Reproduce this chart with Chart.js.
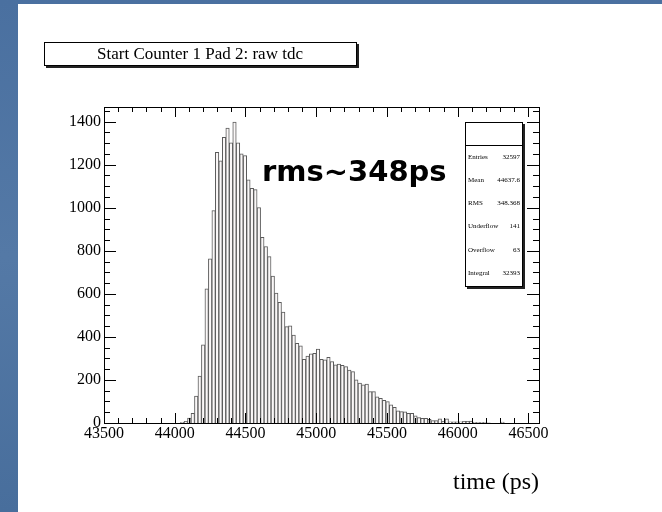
<!DOCTYPE html>
<html>
<head>
<meta charset="utf-8">
<script src="https://cdn.jsdelivr.net/npm/chart.js@4.4.0/dist/chart.umd.min.js"></script>
<style>
  html, body { margin: 0; padding: 0; background: #4f76a3; }
  #histo { display: block; }
</style>
</head>
<body>
<canvas id="histo" width="662" height="512"></canvas>
<script>
// histogram binning (ps)
const X_MIN = 43500;
const X_MAX = 46575;
const BIN_W = 24.6;
const Y_MAX = 1468;

// counts per bin, 125 bins from 43500
const counts = [
  0, 0, 0, 0, 0, 0, 0, 0, 0, 0,
  0, 0, 0, 0, 0, 0, 0, 0, 0, 0,
  0, 0, 3, 8, 23, 45, 125, 218, 363, 623,
  763, 987, 1257, 1218, 1327, 1370, 1302, 1398, 1302, 1251,
  1242, 1130, 1090, 1084, 1001, 862, 820, 773, 683, 603,
  561, 515, 448, 451, 409, 370, 358, 296, 311, 321,
  324, 343, 296, 293, 305, 285, 270, 274, 268, 262,
  246, 239, 200, 185, 177, 181, 146, 146, 122, 115,
  105, 99, 84, 73, 57, 53, 52, 45, 45, 33,
  25, 22, 22, 17, 11, 11, 19, 8, 19, 6,
  5, 5, 6, 8, 8, 9, 3, 2, 3, 2,
  1, 0, 0, 0, 4, 0, 0, 0, 0, 0,
  0, 0, 0, 0, 0
];
const binCenters = counts.map((c, i) => X_MIN + (i + 0.5) * BIN_W);

const xTicks = [43500, 44000, 44500, 45000, 45500, 46000, 46500];
const yTicks = [0, 200, 400, 600, 800, 1000, 1200, 1400];

const titleText = "Start Counter 1 Pad 2: raw tdc";
const xTitle = "time (ps)";
const note = "rms~348ps";
const statNames = ["Entries", "Mean", "RMS", "Underflow", "Overflow", "Integral"];
const statValues = ["32597", "44637.6", "348.368", "141", "63", "32393"];

const serif = "'Liberation Serif', 'Times New Roman', serif";

//slide background
const background = {
  id: "background",
  beforeDraw(chart) {
    const ctx = chart.ctx;
    ctx.save();
    const g = ctx.createLinearGradient(0, 0, 0, chart.height);
    g.addColorStop(0, "#4a70a0");
    g.addColorStop(0.5, "#5479a6");
    g.addColorStop(1, "#486e9c");
    ctx.fillStyle = g;
    ctx.fillRect(0, 0, chart.width, chart.height);
    ctx.fillStyle = "#ffffff";
    ctx.fillRect(18, 4, chart.width - 18, chart.height - 4);
    ctx.restore();
  },
};

//frame + root style ticks
const frameTicks = {
  id: "frameTicks",
  afterDatasetsDraw(chart) {
    const { ctx, chartArea: a, scales } = chart;
    const x = scales.x, y = scales.y;
    ctx.save();
    ctx.strokeStyle = "#000";
    ctx.lineWidth = 1;
    ctx.beginPath();
    for (let v = X_MIN; v <= X_MAX; v += 100) {
      const px = Math.round(x.getPixelForValue(v)) + 0.5;
      const len = v % 500 === 0 ? 10 : 5;
      ctx.moveTo(px, a.bottom);
      ctx.lineTo(px, a.bottom - len);
      ctx.moveTo(px, a.top);
      ctx.lineTo(px, a.top + len);
    }
    for (let v = 0; v <= Y_MAX; v += 50) {
      const py = Math.round(y.getPixelForValue(v)) + 0.5;
      const len = v % 200 === 0 ? 12 : 6;
      ctx.moveTo(a.left, py);
      ctx.lineTo(a.left + len, py);
      ctx.moveTo(a.right, py);
      ctx.lineTo(a.right - len, py);
    }
    ctx.stroke();
    ctx.strokeRect(a.left + 0.5, a.top + 0.5, a.right - a.left, a.bottom - a.top);
    ctx.restore();
  },
  afterDraw(chart) {
    const ctx = chart.ctx;
    ctx.save();
    // title box
    ctx.fillStyle = "#222";
    ctx.fillRect(46, 44, 313, 24);
    ctx.fillStyle = "#fff";
    ctx.fillRect(44, 42, 313, 24);
    ctx.strokeStyle = "#000";
    ctx.lineWidth = 1;
    ctx.strokeRect(44.5, 42.5, 312, 23);
    ctx.fillStyle = "#000";
    ctx.font = "17px " + serif;
    ctx.textAlign = "center";
    ctx.textBaseline = "middle";
    ctx.fillText(titleText, 200, 55);

    // stats box
    ctx.fillStyle = "#222";
    ctx.fillRect(467, 124, 58, 165);
    ctx.fillStyle = "#fff";
    ctx.fillRect(465, 122, 58, 165);
    ctx.strokeRect(465.5, 122.5, 57, 164);
    ctx.beginPath();
    ctx.moveTo(465, 145.5);
    ctx.lineTo(523, 145.5);
    ctx.stroke();
    ctx.fillStyle = "#000";
    ctx.font = "7px " + serif;
    for (let i = 0; i < statNames.length; i++) {
      const ty = 157 + i * 23.2;
      ctx.textAlign = "left";
      ctx.fillText(statNames[i], 468, ty);
      ctx.textAlign = "right";
      ctx.fillText(statValues[i], 520, ty);
    }

    // note
    ctx.font = "bold 29px 'DejaVu Sans', sans-serif";
    ctx.textAlign = "left";
    ctx.textBaseline = "alphabetic";
    ctx.fillText(note, 262, 181);
    ctx.restore();
  },
};

const chart = new Chart(document.getElementById("histo"), {
  type: "bar",
  data: {
    datasets: [
      {
        data: counts.map((c, i) => ({ x: binCenters[i], y: c })),
        backgroundColor: "#fbf8f8",
        borderColor: "#5a5a5a",
        borderWidth: 1,
        barPercentage: 1,
        categoryPercentage: 1,
      },
    ],
  },
  options: {
    responsive: false,
    animation: false,
    layout: { padding: { top: 107, right: 123, left: 0, bottom: 0 } },
    plugins: {
      legend: { display: false },
      tooltip: { enabled: false },
    },
    scales: {
      x: {
        type: "linear",
        offset: false,
        min: X_MIN,
        max: X_MAX,
        grid: { display: false, drawTicks: false },
        border: { display: false },
        afterBuildTicks: (s) => {
          s.ticks = xTicks.map((v) => ({ value: v }));
        },
        ticks: {
          autoSkip: false,
          maxRotation: 0,
          padding: 1,
          color: "#000",
          font: { family: serif, size: 16 },
          callback: (v) => String(v),
        },
        title: {
          display: true,
          text: xTitle,
          align: "end",
          color: "#000",
          font: { family: serif, size: 24 },
          padding: { top: 0, bottom: 15 },
        },
        afterFit: (s) => {
          s.height = 89;
        },
      },
      y: {
        min: 0,
        max: Y_MAX,
        grid: { display: false, drawTicks: false },
        border: { display: false },
        afterBuildTicks: (s) => {
          s.ticks = yTicks.map((v) => ({ value: v }));
        },
        ticks: {
          padding: 3,
          color: "#000",
          font: { family: serif, size: 16 },
          callback: (v) => String(v),
        },
        afterFit: (s) => {
          s.width = 104;
        },
      },
    },
  },
  plugins: [background, frameTicks],
});
</script>
</body>
</html>
